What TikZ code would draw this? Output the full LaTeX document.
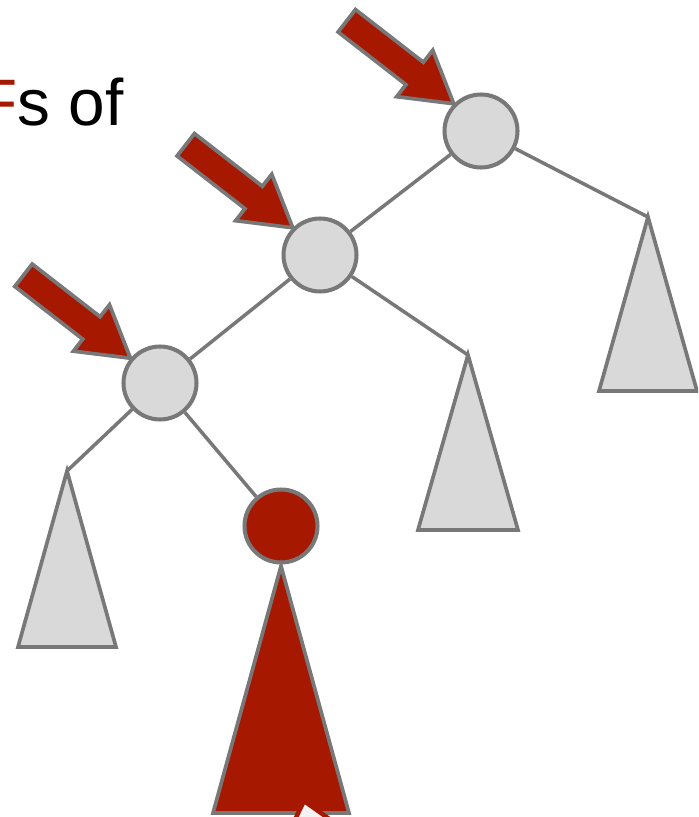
\documentclass[tikz,border=0pt]{standalone}
\usepackage{fontspec}
\setmainfont{Liberation Sans}
\usepackage{xcolor}
\definecolor{berry}{RGB}{166,24,0}
\definecolor{edgegray}{RGB}{120,120,120}
\definecolor{nodegray}{RGB}{217,217,217}
\definecolor{cursorwhite}{RGB}{243,243,243}

\begin{document}
\begin{tikzpicture}[x=0.02cm, y=-0.02cm,
        treenode/.style={circle, draw=edgegray, line width=2.3pt, fill=nodegray, minimum size=1.46cm, inner sep=0pt},
        hotnode/.style={treenode, fill=berry},
        subtree/.style={draw=edgegray, line width=2.1pt, fill=nodegray, line join=miter},
        hottree/.style={subtree, fill=berry},
        edgeline/.style={draw=edgegray, line width=2pt},
        pointer/.style={draw=edgegray, line width=2.1pt, fill=berry, line join=miter}
    ]
        \useasboundingbox (0,0) rectangle (698,817);
        \clip (0,0) rectangle (698,817);
        \node[anchor=base west, inner sep=0pt, font=\fontsize{37.4}{45}\selectfont] (title) at (-23,126) {\textcolor{berry}{F}s of};
        % tree nodes
        \node[treenode] (root) at (481,131) {};
        \node[treenode] (mid) at (320,255) {};
        \node[treenode] (left) at (160,383) {};
        \node[hotnode] (hot) at (281,526) {};
        \coordinate (rtip) at (648,217);
        \coordinate (mtip) at (468,355);
        \coordinate (ltip) at (67,471);
        \coordinate (htip) at (281,566);
        % edges
        \draw[edgeline] (root) -- (mid);
        \draw[edgeline] (root) -- (rtip);
        \draw[edgeline] (mid) -- (left);
        \draw[edgeline] (mid) -- (mtip);
        \draw[edgeline] (left) -- (ltip);
        \draw[edgeline] (left) -- (hot);
        % subtrees
        \draw[subtree] (rtip) -- (599,391) -- (697,391) -- cycle;
        \draw[subtree] (mtip) -- (418,530) -- (518,530) -- cycle;
        \draw[subtree] (ltip) -- (18,647) -- (116,647) -- cycle;
        \draw[hottree] (htip) -- (213,813) -- (349,813) -- cycle;
        % pointers
        \foreach \n/\a in {root/135, mid/135, left/140}
            \draw[pointer, shift={(\n.\a)}] (0,0) -- (-21,-53.5) -- (-30.4,-41.5) -- (-98.3,-94.2) -- (-115.7,-71.8) -- (-47.8,-19.1) -- (-57.1,-7.1) -- cycle;
        \draw[draw=berry, line width=2.5pt, fill=cursorwhite, line join=miter] (304,801) -- (286,838) -- (342,828) -- cycle;
    \end{tikzpicture}
\end{document}
